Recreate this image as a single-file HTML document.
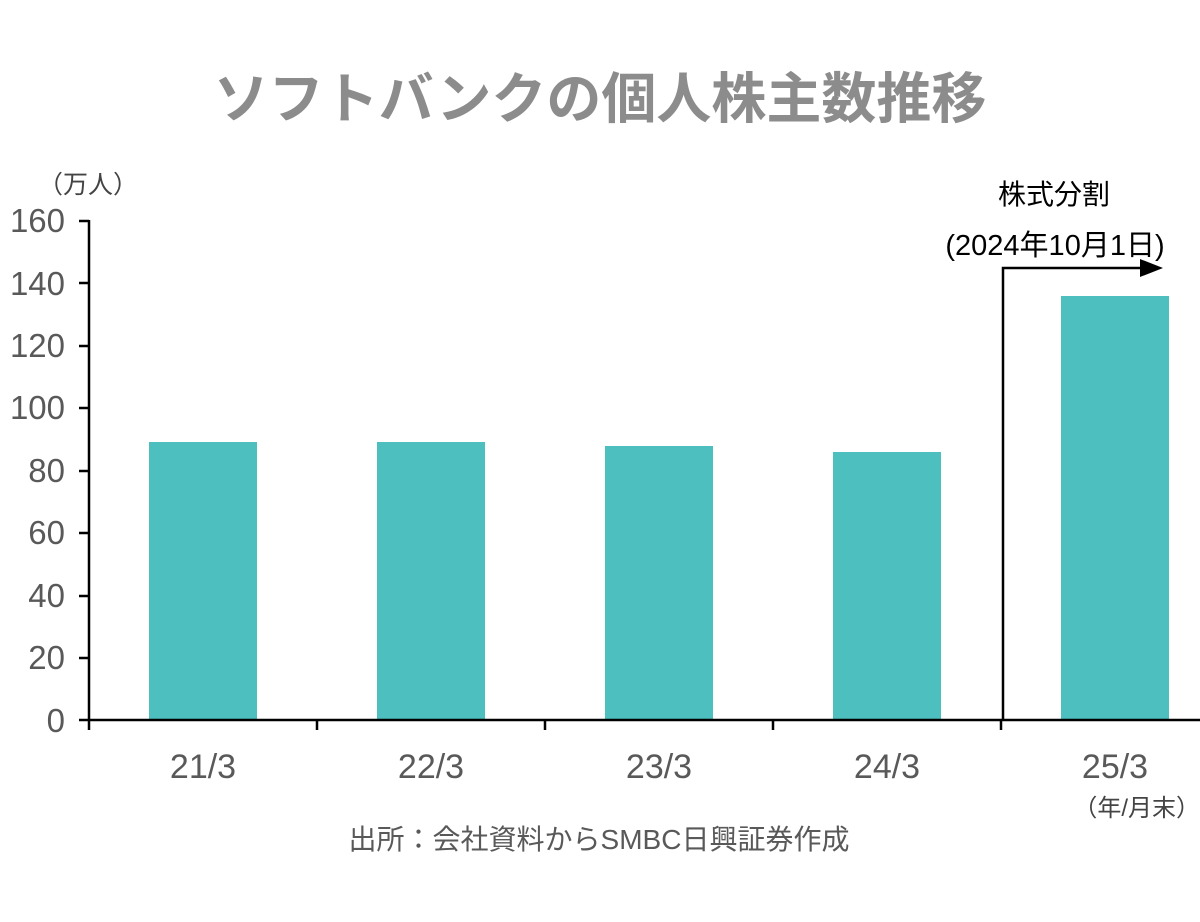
<!DOCTYPE html>
<html><head><meta charset="utf-8"><style>
body{margin:0;background:#fff;}
svg{display:block;}
text{font-family:"Liberation Sans","Noto Sans CJK JP",sans-serif;}
</style></head><body>
<svg width="1200" height="922" viewBox="0 0 1200 922">
<text x="600" y="118" font-size="55" font-weight="bold" fill="#8c8c8c" text-anchor="middle">ソフトバンクの個人株主数推移</text>
<text x="38" y="193" font-size="25" fill="#444">（万人）</text>
<g font-size="33" fill="#595959" text-anchor="end">
<text x="65" y="232">160</text><text x="65" y="295">140</text><text x="65" y="357">120</text>
<text x="65" y="419">100</text><text x="65" y="482">80</text><text x="65" y="544">60</text>
<text x="65" y="607">40</text><text x="65" y="669">20</text><text x="65" y="732">0</text>
</g>
<g fill="#4dbfbf">
<rect x="149" y="442" width="108" height="278"/>
<rect x="377" y="442" width="108" height="278"/>
<rect x="605" y="446" width="108" height="274"/>
<rect x="833" y="452" width="108" height="268"/>
<rect x="1061" y="296" width="108" height="424"/>
</g>
<g stroke="#000" stroke-width="2.5" fill="none">
<line x1="89" y1="220" x2="89" y2="730"/>
<line x1="79" y1="720" x2="1200" y2="720"/>
<path d="M79 221H89M79 283H89M79 346H89M79 408H89M79 471H89M79 533H89M79 596H89M79 658H89"/>
<path d="M317 720V730M545 720V730M773 720V730M1001 720V730"/>
<path d="M1003 720V268H1142"/>
</g>
<polygon points="1140,259 1163,268 1140,277" fill="#000"/>
<g font-size="34" fill="#595959" text-anchor="middle">
<text x="203" y="778">21/3</text><text x="431" y="778">22/3</text><text x="659" y="778">23/3</text>
<text x="887" y="778">24/3</text><text x="1115" y="778">25/3</text>
</g>
<text x="1200" y="816" font-size="24" fill="#444" text-anchor="end">（年/月末）</text>
<text x="1054" y="204" font-size="28" fill="#000" text-anchor="middle">株式分割</text>
<text x="1055" y="255" font-size="29" fill="#000" text-anchor="middle">(2024年10月1日)</text>
<text x="599" y="849" font-size="28" fill="#595959" text-anchor="middle">出所：会社資料からSMBC日興証券作成</text>
</svg>
</body></html>
